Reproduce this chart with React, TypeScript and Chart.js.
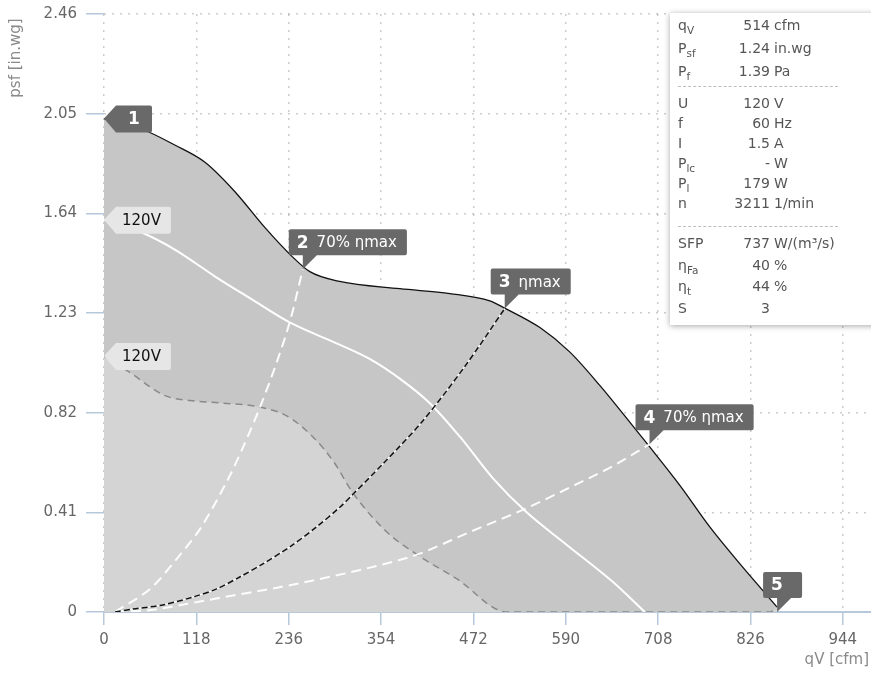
import React, { useEffect, useRef } from "react";
import { Chart, registerables } from "chart.js";

Chart.register(...registerables);

const FONT = "'DejaVu Sans', sans-serif";

// axis ticks
const xTickValues = [0, 118, 236, 354, 472, 590, 708, 826, 944];
const yTickValues = [0, 0.41, 0.82, 1.23, 1.64, 2.05, 2.46];

// main fan curve (black)
const mainFlow = [0, 46, 91, 129, 167, 206, 238, 263, 301, 378, 442, 493, 512, 557, 595, 634, 672, 697, 736, 774, 812, 844, 860];
const mainPress = [2.03, 1.99, 1.92, 1.85, 1.73, 1.58, 1.47, 1.4, 1.36, 1.33, 1.31, 1.28, 1.25, 1.17, 1.07, 0.93, 0.78, 0.68, 0.52, 0.35, 0.2, 0.08, 0.02];

// 120V curve (white solid)
const whiteFlow = [0, 49, 91, 142, 187, 238, 301, 340, 380, 416, 455, 497, 540, 591, 650, 691];
const whitePress = [1.614, 1.56, 1.49, 1.38, 1.29, 1.19, 1.1, 1.04, 0.955, 0.86, 0.72, 0.55, 0.41, 0.277, 0.124, 0];

// 120V lower curve (grey dashed)
const lowFlow = [0, 31, 78, 110, 148, 199, 234, 267, 293, 318, 361, 400, 451, 515, 851, 860];
const lowPress = [1.053, 0.99, 0.89, 0.87, 0.86, 0.843, 0.806, 0.72, 0.62, 0.49, 0.33, 0.236, 0.136, 0, 0, 0.02];

// system curves
const steepFlow = [14, 59, 93, 123, 157, 178, 199, 221, 238, 254];
const steepPress = [0, 0.095, 0.219, 0.343, 0.537, 0.68, 0.84, 1.03, 1.2, 1.41];
const etaFlow = [14, 37, 75, 114, 144, 174, 203, 238, 272, 301, 318, 356, 407, 461, 512];
const etaPress = [0, 0.012, 0.029, 0.062, 0.095, 0.145, 0.198, 0.269, 0.351, 0.43, 0.484, 0.608, 0.785, 1.01, 1.248];
const flatFlow = [14, 59, 114, 165, 221, 267, 314, 349, 400, 468, 535, 595, 650, 697];
const flatPress = [0, 0.008, 0.038, 0.068, 0.1, 0.13, 0.163, 0.19, 0.236, 0.33, 0.42, 0.512, 0.6, 0.69];

// operating point markers
const markerFlow = [0, 254, 512, 697, 860];
const markerPress = [2.03, 1.41, 1.248, 0.69, 0];
const markerNum = ["1", "2", "3", "4", "5"];
const markerText = ["", "70% ηmax", "ηmax", "70% ηmax", ""];

// voltage tags
const voltFlow = [0, 0];
const voltPress = [1.614, 1.053];
const voltText = ["120V", "120V"];

// info table
const infoSym = ["q", "P", "P", "U", "f", "I", "P", "P", "n", "SFP", "η", "η", "S"];
const infoSub = ["V", "sf", "f", "", "", "", "lc", "l", "", "", "Fa", "t", ""];
const infoNum = ["514", "1.24", "1.39", "120", "60", "1.5", "-", "179", "3211", "737", "40", "44", "3"];
const infoUnit = ["cfm", "in.wg", "Pa", "V", "Hz", "A", "W", "W", "1/min", "W/(m³/s)", "%", "%", ""];

const xTitle = "qV [cfm]";
const yTitle = "psf [in.wg]";

const pts = (xs: number[], ys: number[]) => xs.map((x, i) => ({ x, y: ys[i] }));

function leftTag(ctx: CanvasRenderingContext2D, tx: number, ty: number, totalW: number, color: string) {
  const top = ty - 13;
  const bottom = ty + 14;
  const r = 2;
  const right = tx + totalW;
  ctx.beginPath();
  ctx.moveTo(tx, ty);
  ctx.lineTo(tx + 12, top);
  ctx.lineTo(right - r, top);
  ctx.quadraticCurveTo(right, top, right, top + r);
  ctx.lineTo(right, bottom - r);
  ctx.quadraticCurveTo(right, bottom, right - r, bottom);
  ctx.lineTo(tx + 12, bottom);
  ctx.closePath();
  ctx.fillStyle = color;
  ctx.fill();
}

function callout(ctx: CanvasRenderingContext2D, tx: number, ty: number, w: number, color: string) {
  const left = tx - 14;
  const bottom = ty - 14;
  const top = bottom - 26;
  const r = 2;
  const right = left + w;
  ctx.beginPath();
  ctx.moveTo(left + r, top);
  ctx.lineTo(right - r, top);
  ctx.quadraticCurveTo(right, top, right, top + r);
  ctx.lineTo(right, bottom - r);
  ctx.quadraticCurveTo(right, bottom, right - r, bottom);
  ctx.lineTo(tx + 14, bottom);
  ctx.lineTo(tx, ty);
  ctx.lineTo(tx, bottom);
  ctx.lineTo(left + r, bottom);
  ctx.quadraticCurveTo(left, bottom, left, bottom - r);
  ctx.lineTo(left, top + r);
  ctx.quadraticCurveTo(left, top, left + r, top);
  ctx.closePath();
  ctx.fillStyle = color;
  ctx.fill();
  return { left, top, bottom };
}

const overlayPlugin = {
  id: "overlay",
  afterDatasetsDraw(chart: any) {
    const { ctx, scales } = chart;
    const xs = scales.x;
    const ys = scales.y;
    ctx.save();
    ctx.textAlign = "left";
    ctx.textBaseline = "middle";
    for (let i = 0; i < voltFlow.length; i++) {
      const tx = xs.getPixelForValue(voltFlow[i]);
      const ty = ys.getPixelForValue(voltPress[i]);
      ctx.font = `15px ${FONT}`;
      const w = ctx.measureText(voltText[i]).width;
      leftTag(ctx, tx, ty, 12 + 6 + w + 10, "#e6e6e6");
      ctx.fillStyle = "#111";
      ctx.fillText(voltText[i], tx + 18, ty + 1);
    }
    for (let i = 0; i < markerFlow.length; i++) {
      const tx = xs.getPixelForValue(markerFlow[i]);
      const ty = ys.getPixelForValue(markerPress[i]);
      ctx.font = `bold 17px ${FONT}`;
      const nw = ctx.measureText(markerNum[i]).width;
      let sw = 0;
      if (markerText[i]) {
        ctx.font = `15px ${FONT}`;
        sw = ctx.measureText(markerText[i]).width;
      }
      const contentW = 8 + nw + (markerText[i] ? 8 + sw : 0) + 10;
      if (i === 0) {
        const boxW = Math.max(36, contentW);
        leftTag(ctx, tx, ty, 12 + boxW, "#696969");
        ctx.font = `bold 17px ${FONT}`;
        ctx.fillStyle = "#fff";
        ctx.textAlign = "center";
        ctx.fillText(markerNum[i], tx + 12 + boxW / 2, ty + 1);
        ctx.textAlign = "left";
      } else {
        const w = Math.max(39, contentW);
        const box = callout(ctx, tx, ty, w, "#696969");
        const cy = (box.top + box.bottom) / 2 + 1;
        ctx.fillStyle = "#fff";
        ctx.font = `bold 17px ${FONT}`;
        ctx.fillText(markerNum[i], box.left + 8, cy);
        if (markerText[i]) {
          ctx.font = `15px ${FONT}`;
          ctx.fillText(markerText[i], box.left + 8 + nw + 8, cy);
        }
      }
    }
    ctx.restore();
  },
  afterDraw(chart: any) {
    const { ctx } = chart;
    ctx.save();
    ctx.fillStyle = "#8a8a8a";
    ctx.font = `15px ${FONT}`;
    ctx.textBaseline = "middle";
    ctx.textAlign = "right";
    ctx.fillText(xTitle, 869, 660);
    ctx.translate(16, 58);
    ctx.rotate(-Math.PI / 2);
    ctx.textAlign = "center";
    ctx.fillText(yTitle, 0, 0);
    ctx.restore();
  },
};

function InfoBox() {
  const rowCenter = (i: number) => {
    if (i < 3) return 25 + i * 23;
    if (i < 9) return 103 + (i - 3) * 20;
    return 243 + (i - 9) * 21.7;
  };
  const boxTop = 13;
  return (
    <div
      style={{
        position: "absolute",
        left: 670,
        top: boxTop,
        width: 215,
        height: 312,
        background: "#fff",
        boxShadow: "0 1px 6px rgba(0,0,0,0.35)",
        fontFamily: FONT,
        fontSize: 14,
        color: "#555",
      }}
    >
      {infoSym.map((s, i) => (
        <div
          key={i}
          style={{
            position: "absolute",
            left: 0,
            top: rowCenter(i) - boxTop - 11,
            height: 22,
            lineHeight: "22px",
            width: 215,
            whiteSpace: "pre",
          }}
        >
          <span style={{ position: "absolute", left: 8 }}>
            {s}
            {infoSub[i] ? (
              <span style={{ fontSize: 10.5, position: "relative", top: 4 }}>{infoSub[i]}</span>
            ) : null}
          </span>
          <span style={{ position: "absolute", left: 40, width: 60, textAlign: "right" }}>{infoNum[i]}</span>
          <span style={{ position: "absolute", left: 104 }}>{infoUnit[i]}</span>
        </div>
      ))}
      <div style={{ position: "absolute", left: 8, width: 160, top: 86 - boxTop, borderTop: "1px dashed #bdbdbd" }} />
      <div style={{ position: "absolute", left: 8, width: 160, top: 226 - boxTop, borderTop: "1px dashed #bdbdbd" }} />
    </div>
  );
}

export default function App() {
  const canvasRef = useRef<HTMLCanvasElement>(null);

  useEffect(() => {
    const canvas = canvasRef.current;
    if (!canvas) return;
    Chart.defaults.font.family = FONT;
    const gridColor = "rgba(0,0,0,0.2)";
    const axisColor = "#b7c8da";
    const chart = new Chart(canvas, {
      type: "line",
      data: {
        datasets: [
          {
            label: "ηmax dash",
            data: pts(etaFlow, etaPress),
            borderColor: "#111",
            borderWidth: 1.5,
            borderDash: [6, 3],
            pointRadius: 0,
            fill: false,
            tension: 0.3,
            order: 1,
          },
          {
            label: "ηmax",
            data: pts(etaFlow, etaPress),
            borderColor: "#ffffff",
            borderWidth: 1.3,
            pointRadius: 0,
            fill: false,
            tension: 0.3,
            order: 2,
          },
          {
            label: "70% right",
            data: pts(flatFlow, flatPress),
            borderColor: "rgba(255,255,255,0.95)",
            borderWidth: 2,
            borderDash: [10, 6],
            pointRadius: 0,
            fill: false,
            cubicInterpolationMode: "monotone",
            order: 3,
          },
          {
            label: "70% left",
            data: pts(steepFlow, steepPress),
            borderColor: "rgba(255,255,255,0.95)",
            borderWidth: 2,
            borderDash: [10, 6],
            pointRadius: 0,
            fill: false,
            tension: 0.3,
            order: 4,
          },
          {
            label: "120V",
            data: pts(whiteFlow, whitePress),
            borderColor: "#ffffff",
            borderWidth: 2,
            pointRadius: 0,
            fill: false,
            cubicInterpolationMode: "monotone",
            order: 5,
          },
          {
            label: "120V low",
            data: pts(lowFlow, lowPress),
            borderColor: "#8a8a8a",
            backgroundColor: "#d4d4d4",
            borderWidth: 1.5,
            borderDash: [7, 5],
            pointRadius: 0,
            fill: "origin",
            cubicInterpolationMode: "monotone",
            order: 6,
          },
          {
            label: "main",
            data: pts(mainFlow, mainPress),
            borderColor: "#111",
            backgroundColor: "#c6c6c6",
            borderWidth: 1.3,
            pointRadius: 0,
            fill: "origin",
            cubicInterpolationMode: "monotone",
            order: 7,
          },
        ],
      },
      options: {
        animation: false,
        responsive: true,
        maintainAspectRatio: false,
        layout: { padding: { top: 14, right: 0, left: 0, bottom: 0 } },
        plugins: { legend: { display: false }, tooltip: { enabled: false } },
        scales: {
          x: {
            type: "linear",
            min: 0,
            max: 980,
            afterBuildTicks: (s: any) => {
              s.ticks = xTickValues.map((v) => ({ value: v }));
            },
            afterFit: (s: any) => {
              s.height = 69;
            },
            grid: {
              color: gridColor,
              lineWidth: 1.5,
              tickColor: axisColor,
              tickLength: 13,
              tickWidth: 1.5,
              tickBorderDash: [],
            },
            border: { display: true, color: axisColor, width: 2, dash: [2, 6] },
            ticks: {
              color: "#666",
              font: { family: FONT, size: 15 },
              padding: 6,
              autoSkip: false,
              maxRotation: 0,
              callback: (v: any) => String(v),
            },
          },
          y: {
            type: "linear",
            min: 0,
            max: 2.46,
            afterBuildTicks: (s: any) => {
              s.ticks = yTickValues.map((v) => ({ value: v }));
            },
            afterFit: (s: any) => {
              s.width = 104;
              s.paddingTop = 0;
              s.paddingBottom = 0;
            },
            grid: {
              color: (c: any) => (c.tick && c.tick.value === 0 ? "rgba(0,0,0,0)" : gridColor),
              lineWidth: 1.5,
              tickColor: axisColor,
              tickLength: 18,
              tickWidth: 1.5,
              tickBorderDash: [],
            },
            border: { display: false, dash: [2, 6] },
            ticks: {
              color: "#666",
              font: { family: FONT, size: 15 },
              padding: 9,
              autoSkip: false,
              callback: (v: any) => (v === 0 ? "0" : Number(v).toFixed(2)),
            },
          },
        },
      },
      plugins: [overlayPlugin],
    } as any);
    return () => chart.destroy();
  }, []);

  return (
    <div style={{ position: "absolute", left: 0, top: 0, width: 871, height: 681, overflow: "hidden", background: "#fff" }}>
      <div style={{ position: "absolute", left: 0, top: 0, width: 871, height: 681 }}>
        <canvas ref={canvasRef} />
      </div>
      <InfoBox />
    </div>
  );
}
